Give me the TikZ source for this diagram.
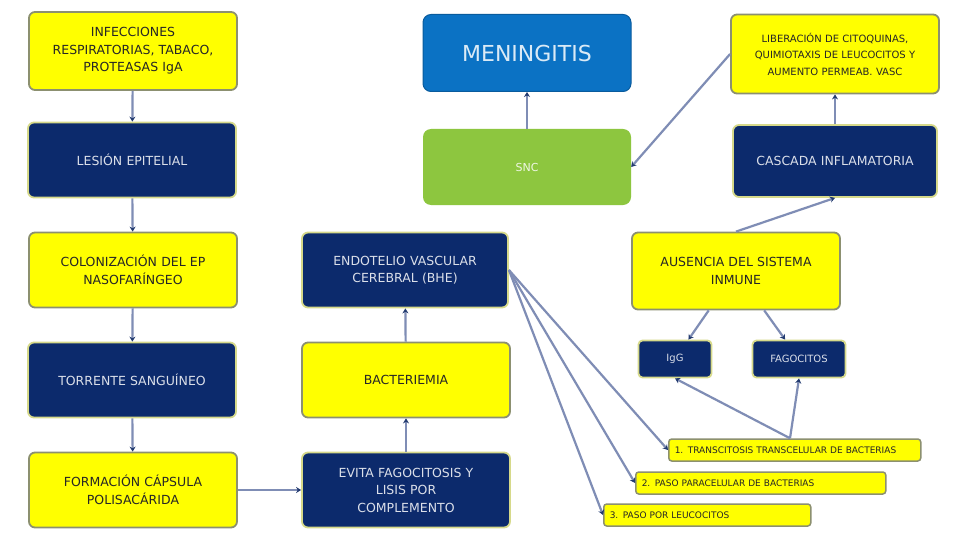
\documentclass[tikz,border=0pt]{standalone}
\usepackage{fontspec}
\setmainfont{DejaVu Sans}
\usetikzlibrary{arrows.meta}
\definecolor{navy}{HTML}{0C2A6C}
\definecolor{ylw}{HTML}{FFFF00}
\definecolor{ybord}{HTML}{8C9070}
\definecolor{nbord}{HTML}{D6D98A}
\definecolor{mblue}{HTML}{0B72C4}
\definecolor{sgreen}{HTML}{8DC63F}
\definecolor{conn}{HTML}{7F8DB5}
\tikzset{
  ybox/.style={draw=ybord, line width=1.8pt, fill=ylw, rounded corners=6pt, align=center,
    text=black!85, font=\fontsize{12.5}{17.5}\selectfont, inner sep=2pt},
  nbox/.style={draw=nbord, line width=1.8pt, fill=navy, rounded corners=6pt, align=center,
    text=white!85!navy, font=\fontsize{12.5}{17.5}\selectfont, inner sep=2pt},
  strip/.style={draw=ybord, line width=1.5pt, fill=ylw, rounded corners=3pt, anchor=west,
    text=black!85, font=\fontsize{9}{10}\selectfont, inner xsep=6pt, minimum height=22pt, text depth=0pt},
  link/.style={draw=conn, line width=2.2pt, -{Stealth[length=5pt,width=6pt,color=navy!80!gray]}},
  wbig/.style={minimum width=208pt, minimum height=75pt, text width=200pt},
}
\begin{document}
\begin{tikzpicture}[x=1pt,y=-1pt]
\useasboundingbox (0,0) rectangle (960,540);
\fill[white] (0,0) rectangle (960,540);
% left column
\node[ybox,wbig,minimum height=78pt] (n1) at (133,51) {INFECCIONES\\RESPIRATORIAS, TABACO,\\PROTEASAS IgA};
\node[nbox,wbig] (n2) at (132,160) {LESIÓN EPITELIAL};
\node[ybox,wbig] (n3) at (133,270) {COLONIZACIÓN DEL EP\\NASOFARÍNGEO};
\node[nbox,wbig] (n4) at (132,380) {TORRENTE SANGUÍNEO};
\node[ybox,wbig] (n5) at (133,490) {FORMACIÓN CÁPSULA\\POLISACÁRIDA};
% middle column
\node[nbox,wbig,minimum width=206pt] (n6) at (405,270) {ENDOTELIO VASCULAR\\CEREBRAL (BHE)};
\node[ybox,wbig] (n7) at (406,380) {BACTERIEMIA};
\node[nbox,wbig] (n8) at (406,490) {EVITA FAGOCITOSIS Y\\LISIS POR\\COMPLEMENTO};
% top middle
\node[draw=mblue!80!black, line width=1pt, fill=mblue, rounded corners=8pt, minimum width=208pt, minimum height=77pt,
  text=white!85!mblue, font=\fontsize{22}{24}\selectfont] (men) at (527,53) {MENINGITIS};
\node[fill=sgreen, rounded corners=8pt, minimum width=208pt, minimum height=76pt,
  text=white!85!sgreen, font=\fontsize{11}{12}\selectfont] (snc) at (527,167) {SNC};
% right side
\node[ybox,wbig,minimum height=79pt,font=\fontsize{10}{16.5}\selectfont] (n11) at (835,54) {LIBERACIÓN DE CITOQUINAS,\\QUIMIOTAXIS DE LEUCOCITOS Y\\AUMENTO PERMEAB. VASC};
\node[nbox,wbig,minimum width=204pt,minimum height=72pt] (n12) at (835,161) {CASCADA INFLAMATORIA};
\node[ybox,wbig,minimum height=77pt] (n13) at (736,271) {AUSENCIA DEL SISTEMA\\INMUNE};
\node[nbox,minimum width=73pt,minimum height=37pt,font=\fontsize{10}{11}\selectfont,rounded corners=4pt] (igg) at (675,359) {IgG};
\node[nbox,minimum width=93pt,minimum height=37pt,font=\fontsize{10}{11}\selectfont,rounded corners=4pt] (fag) at (799,359) {FAGOCITOS};
% strips
\node[strip,minimum width=252pt,text width=240pt] (s1) at (668,450) {1. TRANSCITOSIS TRANSCELULAR DE BACTERIAS};
\node[strip,minimum width=250pt,text width=238pt] (s2) at (635,483) {2. PASO PARACELULAR DE BACTERIAS};
\node[strip,minimum width=207pt,text width=195pt] (s3) at (603,515) {3. PASO POR LEUCOCITOS};
% connectors
\draw[link] (n1) -- (n2);
\draw[link] (n2) -- (n3);
\draw[link] (n3) -- (n4);
\draw[link] (n4) -- (n5);
\draw[link] (n5) -- (n8);
\draw[link] (n8) -- (n7);
\draw[link] (n7) -- (n6);
\draw[link] (n6.east) -- (s1.west);
\draw[link] (n6.east) -- (s2.west);
\draw[link] (n6.east) -- (s3.west);
\coordinate (s1top) at (790,438);
\draw[link] (s1.north -| s1top) -- (igg.south);
\draw[link] (s1.north -| s1top) -- (fag.south);
\draw[link] (n13) -- (igg);
\draw[link] (n13) -- (fag);
\draw[link] (n13.north) -- (n12.south);
\draw[link] (n12) -- (n11);
\draw[link] (n11.west) -- (snc.east);
\draw[link] (snc) -- (men);
\end{tikzpicture}
\end{document}
